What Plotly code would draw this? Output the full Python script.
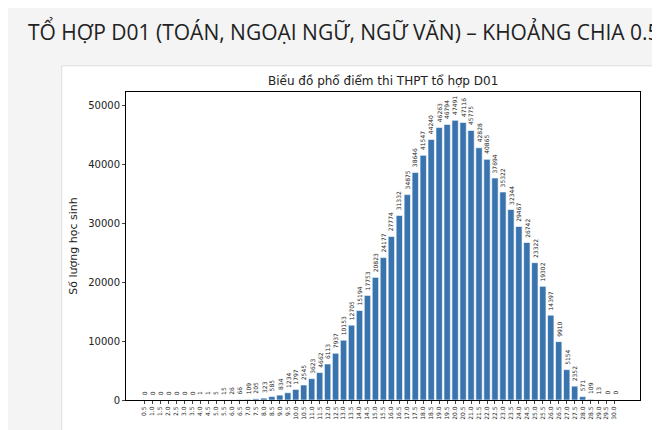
import plotly.graph_objects as go

scores = [f"{0.5 * i:.1f}" for i in range(1, 61)]
counts = [0, 0, 0, 0, 0, 0, 0, 1, 1, 5, 15, 26, 66, 109, 205, 323, 585, 834, 1234, 1797,
          2545, 3623, 4662, 6113, 7937, 10153, 12705, 15194, 17753, 20823, 24177, 27774,
          31332, 34875, 38646, 41547, 44240, 46263, 46794, 47491, 47116, 45775, 42828,
          40865, 37694, 35322, 32344, 29467, 26742, 23322, 19302, 14397, 9910, 5154,
          2352, 571, 109, 13, 0, 0]

fig = go.Figure(go.Bar(
    x=scores, y=counts,
    marker=dict(color="#3a74ae", line=dict(color="#ffffff", width=0.6)),
    width=0.8,
))

# value labels above each bar, rotated like the original (x = category index)
labels = [dict(x=i, y=c, text=str(c), textangle=-90, showarrow=False,
               yanchor="bottom", yshift=3, font=dict(size=6, color="#222"))
          for i, c in enumerate(counts)]

fig.update_layout(
    width=660, height=430,
    paper_bgcolor="#f4f4f4", plot_bgcolor="white",
    margin=dict(l=118, r=28, t=84, b=38),
    font=dict(family="DejaVu Sans", color="#222"),
    showlegend=False,
    shapes=[dict(type="rect", xref="paper", yref="paper", x0=-0.125, x1=1.06,
                 y0=-0.13, y1=1.085, fillcolor="white", line=dict(color="#dddddd", width=1),
                 layer="below")],
    annotations=labels + [
        dict(text="TỔ HỢP D01 (TOÁN, NGOẠI NGỮ, NGỮ VĂN) – KHOẢNG CHIA 0.5",
             xref="paper", yref="paper", x=-0.195, xanchor="left", y=1.25, showarrow=False,
             font=dict(size=21, family="Open Sans", color="#222")),
        dict(text="Biểu đồ phổ điểm thi THPT tổ hợp D01", xref="paper", yref="paper",
             x=0.5, y=1.005, yanchor="bottom", showarrow=False, font=dict(size=12)),
    ],
)
fig.update_xaxes(type="category", tickangle=-90, tickfont=dict(size=6), showline=True,
                 linecolor="black", ticks="outside", ticklen=3, range=[-2.3, 62.2], mirror=True)
fig.update_yaxes(range=[0, 52300], tickvals=[0, 10000, 20000, 30000, 40000, 50000],
                 tickformat="d", tickfont=dict(size=10), showgrid=False, showline=True,
                 linecolor="black", ticks="outside", ticklen=3, mirror=True, zeroline=False,
                 title=dict(text="Số lượng học sinh", font=dict(size=11), standoff=8))
fig.write_html("out.html")
